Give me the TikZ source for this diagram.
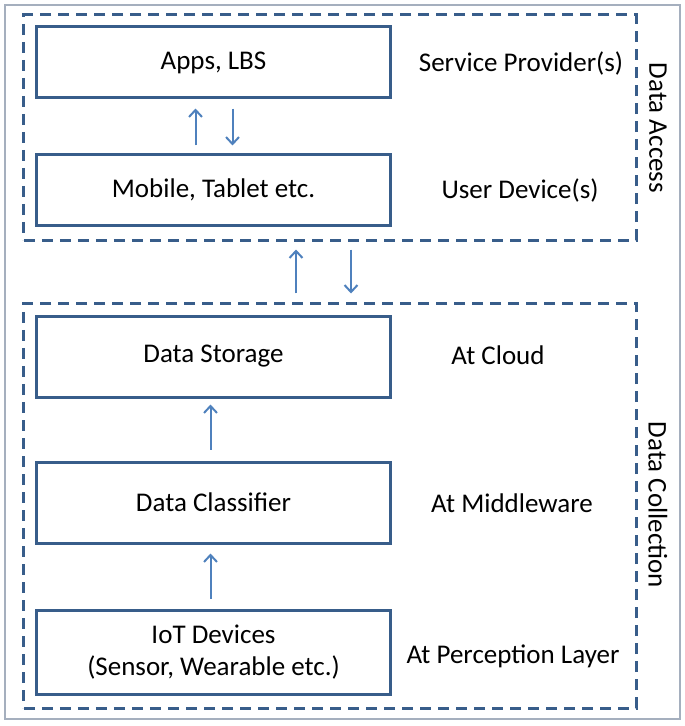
\documentclass[tikz,border=0pt]{standalone}
\usepackage{fontspec}
\setmainfont{Carlito}
\usetikzlibrary{arrows.meta}
\definecolor{boxblue}{RGB}{56,93,138}
\definecolor{arrowblue}{RGB}{79,129,189}
\definecolor{framegray}{RGB}{165,175,190}
\tikzset{
  blockbox/.style={draw=boxblue, line width=3bp, minimum width=353bp, align=center, font=\fontsize{27bp}{32bp}\selectfont},
  layerbox/.style={draw=boxblue, line width=3bp, dash pattern=on 11bp off 7bp, minimum width=612bp},
  sidelabel/.style={font=\fontsize{27bp}{32bp}\selectfont},
  flowarrow/.style={draw=arrowblue, line width=2bp, -{Straight Barb[length=7bp,width=13bp]}}
}
\begin{document}
\begin{tikzpicture}[x=1bp,y=-1bp]
		%%%%% START %%%%%
		\useasboundingbox (0,0) rectangle (685,726);
		\draw[framegray, line width=1.2bp] (5,5) rectangle (680,719);
		
		% layers
		\node[layerbox, minimum height=225bp] (access) at (330,127.5) {};
		\node[layerbox, minimum height=405bp] (collect) at (330,505.5) {};
		
		% blocks
		\node[blockbox, minimum height=71bp] (apps) at (213.5,62.5) {Apps, LBS};
		\node[blockbox, minimum height=70bp] (mobile) at (213.5,190) {Mobile, Tablet etc.};
		\node[blockbox, minimum height=81bp] (storage) at (213.5,356.5) {Data Storage};
		\node[blockbox, minimum height=81bp] (classifier) at (213.5,502.5) {Data Classifier};
		\node[blockbox, minimum height=84bp] (iot) at (213.5,652) {IoT Devices\\(Sensor, Wearable etc.)};
		
		% side labels
		\node[sidelabel] (provider) at (521,63) {Service Provider(s)};
		\node[sidelabel] (device) at (520,190) {User Device(s)};
		\node[sidelabel] (cloud) at (498,355) {At Cloud};
		\node[sidelabel] (middleware) at (512,503) {At Middleware};
		\node[sidelabel] (perception) at (513,656) {At Perception Layer};
		\node[sidelabel, rotate=-90] (accesslabel) at (658,128) {Data Access};
		\node[sidelabel, rotate=-90] (collectlabel) at (658,505) {Data Collection};
		
		% arrows
		\draw[flowarrow] ([xshift=-18bp,yshift=8bp]mobile.north) -- ([xshift=-18bp,yshift=-9bp]apps.south);
		\draw[flowarrow] ([xshift=19bp,yshift=-9bp]apps.south) -- ([xshift=19bp,yshift=8bp]mobile.north);
		\draw[flowarrow] ([xshift=-34bp,yshift=8bp]collect.north) -- ([xshift=-34bp,yshift=-8bp]access.south);
		\draw[flowarrow] ([xshift=21bp,yshift=-8bp]access.south) -- ([xshift=21bp,yshift=8bp]collect.north);
		\draw[flowarrow] ([xshift=-3bp,yshift=11bp]classifier.north) -- ([xshift=-3bp,yshift=-6bp]storage.south);
		\draw[flowarrow] ([xshift=-3bp,yshift=10bp]iot.north) -- ([xshift=-3bp,yshift=-9bp]classifier.south);
		
		%%%%% END %%%%%
	\end{tikzpicture}
\end{document}
